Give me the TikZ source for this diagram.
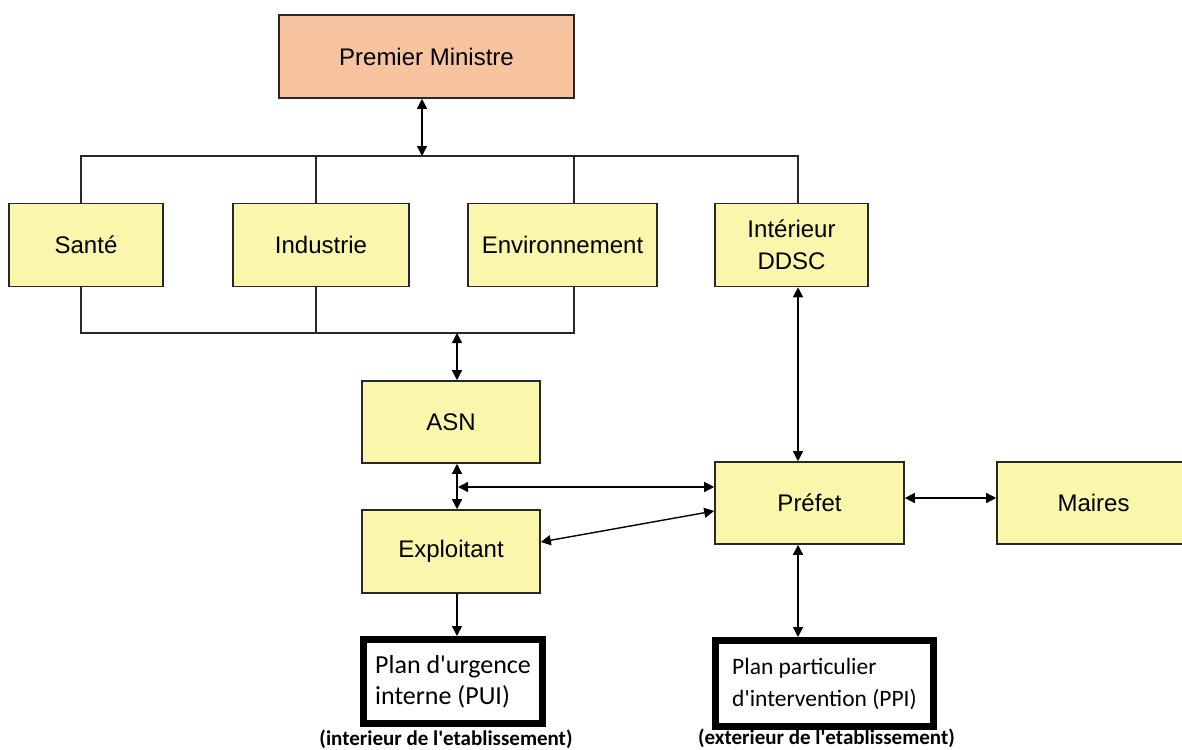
\documentclass[tikz,border=0pt]{standalone}
\usepackage{fontspec}
\setmainfont{Liberation Sans}
\newfontfamily\planfont{Carlito}
\usetikzlibrary{arrows.meta,positioning}
\definecolor{boxyellow}{RGB}{250,247,172}
\definecolor{boxsalmon}{RGB}{248,196,160}
\definecolor{lineclr}{RGB}{40,40,40}

\begin{document}
\begin{tikzpicture}[x=1pt,y=-1pt,>={Triangle[length=10pt,width=10pt]},font=\fontsize{24}{32}\selectfont]
 \tikzset{box/.style={draw=lineclr,line width=1.6pt,fill=boxyellow,align=center,inner sep=0pt,minimum height=83pt},
          plan/.style={draw=black,line width=7pt,align=left,inner sep=0pt,font=\planfont\fontsize{26}{31}\selectfont},
          note/.style={inner sep=0pt,font=\planfont\bfseries\fontsize{21}{24}\selectfont},
          bus/.style={draw=lineclr,line width=1.4pt},
          arr/.style={->,line width=1.4pt},
          dbl/.style={<->,line width=1.4pt}}
 \useasboundingbox (0,0) rectangle (1182,749);
 \clip (0,0) rectangle (1182,749);
 % ministries
 \node[box,fill=boxsalmon,minimum width=295pt] (pm) at (426.5,56.5) {Premier Ministre};
 \node[box,minimum width=154pt] (sante) at (86,245) {Sant\'e};
 \node[box,minimum width=176pt] (industrie) at (321,245) {Industrie};
 \node[box,minimum width=189pt] (env) at (562.5,245) {Environnement};
 \node[box,minimum width=153pt] (interieur) at (791.5,245) {Int\'erieur\\DDSC};
 % local level
 \node[box,minimum width=178pt,minimum height=82pt] (asn) at (451,422) {ASN};
 \node[box,minimum width=178pt,below=45.4pt of asn] (exploit) {Exploitant};
 \node[box,minimum width=189pt,minimum height=82pt] (prefet) at (809.5,503) {Pr\'efet};
 \node[box,minimum width=193pt,minimum height=82pt,right=91.4pt of prefet] (maires) {Maires};
 % plans
 \node[plan,minimum width=179pt,minimum height=84pt] (pui) at (453,681.5) {Plan d\textquotesingle urgence\\interne (PUI)};
 \node[plan,minimum width=218pt,minimum height=86pt,font=\planfont\fontsize{23.5}{32}\selectfont] (ppi) at (824.5,683.5) {Plan particulier\\d\textquotesingle intervention (PPI)};
 \node[note,below=3pt of pui,xshift=-7pt] (puinote) {(interieur de l\textquotesingle etablissement)};
 \node[note,anchor=south,xshift=2pt] (ppinote) at (ppi.south |- 0,748) {(exterieur de l\textquotesingle etablissement)};
 % bus lines
 \coordinate (bustop) at (422,156);
 \coordinate (busbot) at (457,333);
 \coordinate (fork) at (458,487);
 \draw[bus] ([xshift=-5pt]sante.north) |- (bustop) -| ([xshift=6.5pt]interieur.north);
 \draw[bus] ([xshift=-5pt]industrie.north) -- ([xshift=-5pt]industrie.north |- bustop);
 \draw[bus] ([xshift=11.5pt]env.north) -- ([xshift=11.5pt]env.north |- bustop);
 \draw[bus] ([xshift=-5pt]sante.south) |- (busbot) -| ([xshift=11.5pt]env.south);
 \draw[bus] ([xshift=-5pt]industrie.south) -- ([xshift=-5pt]industrie.south |- busbot);
 % arrows
 \draw[dbl] (bustop) -- (bustop |- pm.south);
 \draw[dbl] (busbot) -- (busbot |- asn.north);
 \draw[dbl] ([xshift=6pt]asn.south) -- ([xshift=6pt]exploit.north);
 \draw[dbl] (fork) -- (fork -| prefet.west);
 \draw[dbl] ([yshift=9.5pt]exploit.east) -- ([yshift=-8pt]prefet.west);
 \draw[dbl] ([xshift=6.5pt]interieur.south) -- ([xshift=6.5pt]interieur.south |- prefet.north);
 \draw[dbl] ([yshift=5pt]prefet.east) -- ([yshift=5pt]prefet.east -| maires.west);
 \draw[dbl] ([xshift=-11.5pt]prefet.south) -- ([xshift=-11.5pt]prefet.south |- ppi.north);
 \draw[arr] ([xshift=6pt]exploit.south) -- ([xshift=6pt]exploit.south |- pui.north);
\end{tikzpicture}
\end{document}
